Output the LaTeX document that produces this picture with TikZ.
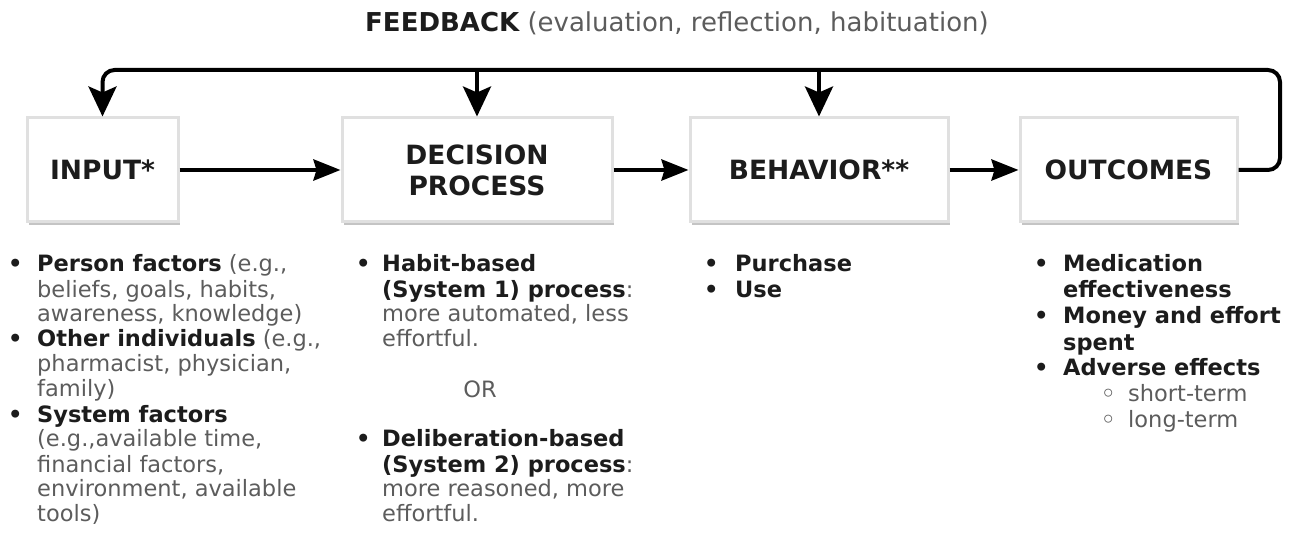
\documentclass[tikz,border=0pt]{standalone}
\usepackage{fontspec}
\setmainfont{DejaVu Sans}
\usetikzlibrary{arrows.meta,shadows}
\definecolor{txtgray}{HTML}{5C5C5C}
\definecolor{txtdark}{HTML}{1C1C1C}
\definecolor{boxedge}{HTML}{E0E0E0}
\definecolor{boxshadow}{HTML}{C4C4C4}
\newcommand{\bk}[1]{{\bfseries\color{txtdark}#1}}
\newcommand{\bul}[1]{\makebox[#1][l]{\bfseries\color{txtdark}•}}
\newcommand{\sbul}{{\color{txtgray}◦}}
\begin{document}
\begin{tikzpicture}[x=1pt,y=-1pt,
  procbox/.style={draw=boxedge, line width=3pt, fill=white,
    minimum height=104pt, inner sep=0pt, align=center,
    font=\fontsize{26.5}{31}\selectfont\bfseries, text=txtdark,
    drop shadow={shadow xshift=2pt, shadow yshift=-3pt, fill=boxshadow, opacity=1}},
  flow/.style={line width=4pt, -{Stealth[length=27pt,width=21pt,inset=3pt]}},
  fbdown/.style={line width=4pt, -{Stealth[length=30pt,width=28pt,inset=6pt]}},
  fbline/.style={line width=4pt, rounded corners=12pt},
  listnode/.style={anchor=base west, inner sep=0pt, text=txtgray,
    font=\fontsize{22.5}{25}\selectfont}]
\useasboundingbox (0,0) rectangle (1295,537);

% title
\node[anchor=base, inner sep=0pt, text=txtgray, font=\fontsize{26}{30}\selectfont] (title) at (677,32)
  {\bk{FEEDBACK} (evaluation, reflection, habituation)};

% boxes
\node[procbox, minimum width=151pt] (in) at (102.5,170) {INPUT*};
\node[procbox, minimum width=270pt] (dp) at (477,170) {DECISION\\PROCESS};
\node[procbox, minimum width=258pt] (bh) at (819,170) {BEHAVIOR**};
\node[procbox, minimum width=217pt] (oc) at (1128.5,170) {OUTCOMES};

% flow arrows
\draw[flow] (in.east) -- (dp.west);
\draw[flow] (dp.east) -- (bh.west);
\draw[flow] (bh.east) -- (oc.west);

% feedback loop
\coordinate (fbR) at (1280,70);
\coordinate (fbL) at (100,70);
\draw[fbline, -{Stealth[length=30pt,width=28pt,inset=6pt]}] (oc.east) -| (fbR) -| (in.north);
\draw[fbdown] (dp.north |- fbL) -- (dp.north);
\draw[fbdown] (bh.north |- fbL) -- (bh.north);

% lists
\node[listnode] (l1) at (8,272) {\begin{tabular}[t]{@{}l@{}l@{}}
\bul{29pt} & \bk{Person factors} (e.g.,\\
 & beliefs, goals, habits,\\
 & awareness, knowledge)\\
\bul{29pt} & \bk{Other individuals} (e.g.,\\
 & pharmacist, physician,\\
 & family)\\
\bul{29pt} & \bk{System factors}\\
 & (e.g.,available time,\\
 & financial factors,\\
 & environment, available\\
 & tools)
\end{tabular}};

\node[listnode] (l2) at (356,272) {\begin{tabular}[t]{@{}l@{}l@{}}
\bul{26pt} & \bk{Habit-based}\\
 & \bk{(System 1) process}:\\
 & more automated, less\\
 & effortful.\\
 & \\
 & \\
 & \\
\bul{26pt} & \bk{Deliberation-based}\\
 & \bk{(System 2) process}:\\
 & more reasoned, more\\
 & effortful.
\end{tabular}};
\node[anchor=base, inner sep=0pt, text=txtgray, font=\fontsize{22.5}{25}\selectfont] (or) at (480,397) {OR};

\node[listnode] (l3) at (704,272) {\begin{tabular}[t]{@{}l@{}l@{}}
\bul{31pt} & \bk{Purchase}\\
\bul{31pt} & \bk{Use}
\end{tabular}};

\node[listnode, font=\fontsize{22.5}{26}\selectfont] (l4) at (1034,272) {\begin{tabular}[t]{@{}l@{}l@{}}
\bul{29pt} & \bk{Medication}\\
 & \bk{effectiveness}\\
\bul{29pt} & \bk{Money and effort}\\
 & \bk{spent}\\
\bul{29pt} & \bk{Adverse effects}\\
 & \hspace*{38pt}\makebox[27pt][l]{\bfseries\sbul}short-term\\
 & \hspace*{38pt}\makebox[27pt][l]{\bfseries\sbul}long-term
\end{tabular}};
\end{tikzpicture}
\end{document}
